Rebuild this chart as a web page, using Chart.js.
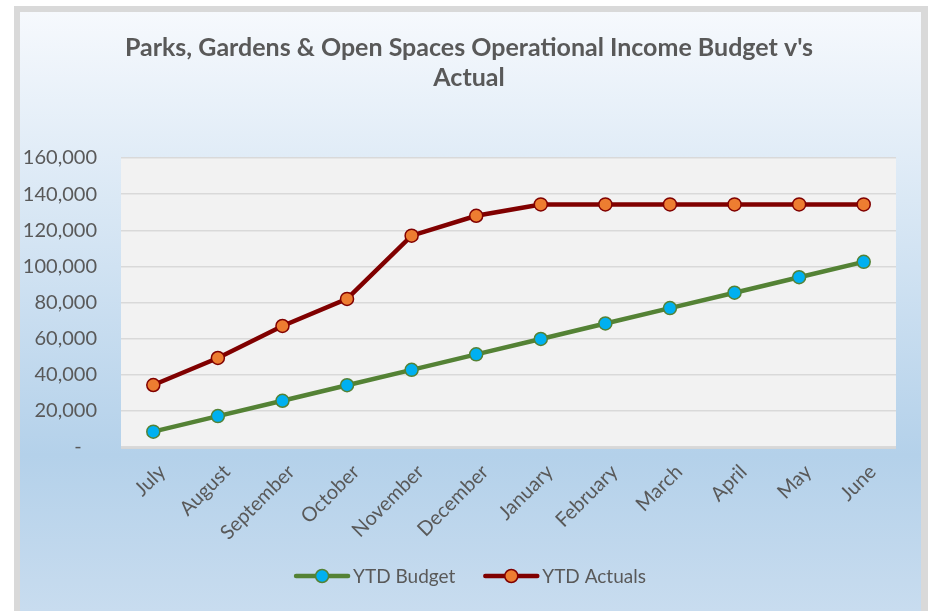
<!DOCTYPE html>
<html lang="en">
<head>
    <meta charset="UTF-8">
    <meta name="viewport" content="width=device-width, initial-scale=1">
    <title>Parks, Gardens &amp; Open Spaces Operational Income</title>
    <script src="https://cdn.jsdelivr.net/npm/chart.js"></script>
    <style>
        html, body { margin: 0; padding: 0; background: #ffffff; }
        #chartbox { width: 930px; height: 611px; }
    </style>
</head>
<body>
    <div id="chartbox">
        <canvas id="incomeChart" width="930" height="611"></canvas>
    </div>

    <script>
    var months = ['July', 'August', 'September', 'October', 'November', 'December',
                  'January', 'February', 'March', 'April', 'May', 'June'];
    var ytdBudget = [8500, 17100, 25600, 34200, 42700, 51300, 59800, 68400, 76900, 85400, 94000, 102500];
    var ytdActuals = [34300, 49300, 67000, 82000, 117000, 128000, 134300, 134300, 134300, 134300, 134300, 134300];
    var yTicks = [0, 20000, 40000, 60000, 80000, 100000, 120000, 140000, 160000];
    var titleLines = ["Parks, Gardens & Open Spaces Operational Income Budget v's", 'Actual'];

    var textColor = '#595959';
    var fontName = 'Lato, "Open Sans", sans-serif';

    document.addEventListener('DOMContentLoaded', function () {

        // card frame, gradient fill and grey plot area
        var backdrop = {
            id: 'backdrop',
            beforeDraw: function (chart) {
                var ctx = chart.ctx;
                var area = chart.chartArea;
                ctx.save();
                ctx.fillStyle = '#ffffff';
                ctx.fillRect(0, 0, chart.width, chart.height);
                ctx.fillStyle = '#d9d9d9';
                ctx.fillRect(14, 6, 914, chart.height - 6);
                var grad = ctx.createLinearGradient(0, 12, 0, chart.height);
                grad.addColorStop(0, '#f6f9fd');
                grad.addColorStop(0.74, '#b4d1ea');
                grad.addColorStop(1, '#c8dcef');
                ctx.fillStyle = grad;
                ctx.fillRect(20, 12, 901, chart.height - 12);
                ctx.fillStyle = '#f2f2f2';
                ctx.fillRect(area.left, area.top, area.right - area.left, area.bottom - area.top);
                ctx.fillStyle = '#d6d6d6';
                ctx.fillRect(area.left, area.bottom - 1, area.right - area.left, 3);

                // title, centred on the card rather than the padded box
                ctx.fillStyle = textColor;
                ctx.font = 'bold 25px ' + fontName;
                ctx.textAlign = 'center';
                ctx.textBaseline = 'middle';
                titleLines.forEach(function (line, i) {
                    ctx.fillText(line, 469, 48 + i * 30);
                });
                ctx.restore();
            }
        };

        // legend drawn as a line with a marker on it, like the series
        var lineLegend = {
            id: 'lineLegend',
            afterDraw: function (chart) {
                var ctx = chart.ctx;
                var sets = chart.data.datasets;
                var y = 576;
                var lineLen = 52;
                var gap = 5;
                var spacing = 30;
                ctx.save();
                ctx.font = '19px ' + fontName;
                var total = 0;
                sets.forEach(function (ds, i) {
                    total += lineLen + gap + ctx.measureText(ds.label).width;
                    if (i < sets.length - 1) total += spacing;
                });
                var x = 471 - total / 2;
                sets.forEach(function (ds) {
                    ctx.strokeStyle = ds.borderColor;
                    ctx.lineWidth = ds.borderWidth;
                    ctx.lineCap = 'round';
                    ctx.beginPath();
                    ctx.moveTo(x, y);
                    ctx.lineTo(x + lineLen, y);
                    ctx.stroke();
                    ctx.beginPath();
                    ctx.arc(x + lineLen / 2, y, ds.pointRadius, 0, Math.PI * 2);
                    ctx.fillStyle = ds.pointBackgroundColor;
                    ctx.fill();
                    ctx.lineWidth = ds.pointBorderWidth;
                    ctx.strokeStyle = ds.pointBorderColor;
                    ctx.stroke();
                    ctx.fillStyle = textColor;
                    ctx.textAlign = 'left';
                    ctx.textBaseline = 'middle';
                    ctx.fillText(ds.label, x + lineLen + gap, y + 1);
                    x += lineLen + gap + ctx.measureText(ds.label).width + spacing;
                });
                ctx.restore();
            }
        };

        var ctx = document.getElementById('incomeChart').getContext('2d');
        window.myChart = new Chart(ctx, {
            type: 'line',
            data: {
                labels: months,
                datasets: [
                    {
                        label: 'YTD Budget',
                        data: ytdBudget,
                        borderColor: '#548235',
                        borderWidth: 4.5,
                        pointBackgroundColor: '#00b0f0',
                        pointBorderColor: '#548235',
                        pointBorderWidth: 1.5,
                        pointRadius: 6.5,
                        tension: 0,
                        fill: false
                    },
                    {
                        label: 'YTD Actuals',
                        data: ytdActuals,
                        borderColor: '#800000',
                        borderWidth: 4.5,
                        pointBackgroundColor: '#ed7d31',
                        pointBorderColor: '#800000',
                        pointBorderWidth: 1.5,
                        pointRadius: 6.5,
                        tension: 0,
                        fill: false
                    }
                ]
            },
            options: {
                responsive: false,
                animation: false,
                events: [],
                layout: {
                    padding: { left: 20, right: 34, top: 158, bottom: 64 }
                },
                scales: {
                    x: {
                        offset: true,
                        grid: { display: false, drawTicks: false },
                        border: { display: false },
                        ticks: {
                            color: textColor,
                            font: { family: fontName, size: 20 },
                            minRotation: 45,
                            maxRotation: 45,
                            padding: 13,
                            labelOffset: 9
                        },
                        afterFit: function (scale) { scale.height = 100; }
                    },
                    y: {
                        min: 0,
                        max: 160000,
                        afterBuildTicks: function (scale) {
                            scale.ticks = yTicks.map(function (v) { return { value: v }; });
                        },
                        grid: { color: '#d9d9d9', lineWidth: 1.5, drawTicks: false },
                        border: { display: false },
                        ticks: {
                            color: textColor,
                            font: { family: fontName, size: 20 },
                            padding: 24,
                            callback: function (value) {
                                return value === 0 ? '-   ' : value.toLocaleString('en-US');
                            }
                        },
                        afterFit: function (scale) { scale.width = 101; }
                    }
                },
                plugins: {
                    legend: { display: false },
                    tooltip: { enabled: false },
                    title: { display: false }
                }
            },
            plugins: [backdrop, lineLegend]
        });
    });
    </script>
</body>
</html>
